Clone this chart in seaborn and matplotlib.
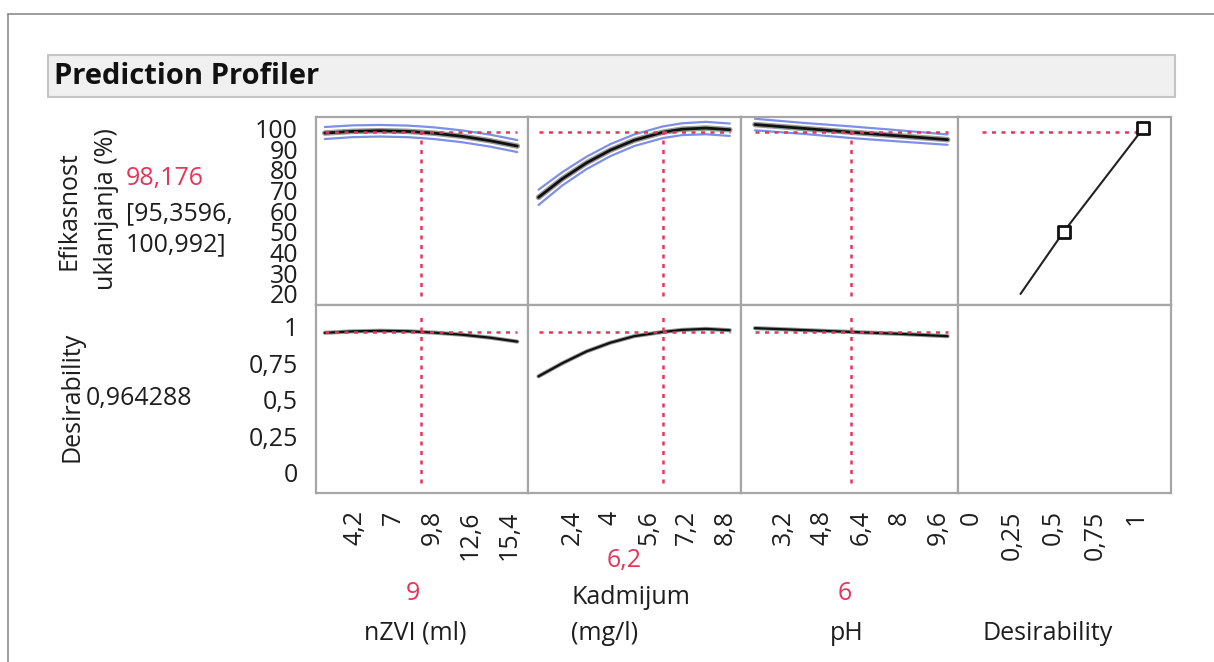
import numpy as np
import pandas as pd
import matplotlib
matplotlib.use("Agg")
import matplotlib.pyplot as plt
import seaborn as sns
from matplotlib.patches import Rectangle
from matplotlib.lines import Line2D

# ---------------- data ----------------
nzvi_x = [2, 4, 6, 8, 9, 10, 12, 14, 16]
nzvi_pred = [97.8, 98.6, 98.9, 98.6, 98.18, 97.7, 96.2, 94.1, 91.5]
nzvi_lo = [94.9, 95.8, 96.1, 95.8, 95.36, 94.85, 93.35, 91.25, 88.6]
nzvi_hi = [100.7, 101.5, 101.7, 101.4, 100.99, 100.5, 99.05, 97.05, 94.4]
nzvi_des = [0.958, 0.968, 0.972, 0.969, 0.964, 0.959, 0.945, 0.925, 0.898]

kad_x = [1, 2, 3, 4, 5, 6.2, 7, 8, 9]
kad_pred = [66.7, 75.7, 83.3, 89.5, 94.3, 98.18, 99.65, 100.2, 99.4]
kad_lo = [63.0, 72.5, 80.3, 86.6, 91.5, 95.36, 96.8, 97.2, 96.4]
kad_hi = [70.4, 78.9, 86.3, 92.4, 97.1, 100.99, 102.5, 103.2, 102.4]
kad_des = [0.66, 0.75, 0.83, 0.89, 0.935, 0.964, 0.978, 0.985, 0.976]

ph_x = [2, 4, 6, 8, 10]
ph_pred = [101.9, 100.05, 98.18, 96.4, 94.6]
ph_lo = [99.1, 97.4, 95.36, 93.7, 92.1]
ph_hi = [104.7, 102.7, 100.99, 99.1, 97.1]
ph_des = [0.99, 0.977, 0.964, 0.951, 0.935]

desfun_d = [0.30, 0.56, 1.04]
desfun_y = [20, 50, 100]

current = {"nZVI": 9, "Kad": 6.2, "pH": 6}
pred_value = 98.176
ci_text = "[95,3596,\n100,992]"
desir_value = 0.964288

nzvi_ticks = [4.2, 7, 9.8, 12.6, 15.4]
kad_ticks = [2.4, 4, 5.6, 7.2, 8.8]
ph_ticks = [3.2, 4.8, 6.4, 8, 9.6]
des_ticks = [0, 0.25, 0.5, 0.75, 1]
resp_ticks = [20, 30, 40, 50, 60, 70, 80, 90, 100]
d_ticks = [0, 0.25, 0.5, 0.75, 1]

def fmt(v):
    return ("%g" % v).replace(".", ",")

# ---------------- styling ----------------
sns.set_theme(style="white")
plt.rcParams["font.family"] = ["Open Sans", "DejaVu Sans"]

W, H = 1214, 662
fig = plt.figure(figsize=(W / 100, H / 100), dpi=100)

RED = "#e8345a"
BLUE = "#7f8fe6"
GRID = "#a6a6a6"
TXT = "#1e1e1e"
FS = 18
TFS = 18

def fx(px):
    return px / W

def fy(py):
    return 1 - py / H

# frame lines
fig.add_artist(Line2D([fx(8), fx(8)], [fy(14), fy(662)], transform=fig.transFigure, color="#8c8c8c", lw=1.2))
fig.add_artist(Line2D([fx(8), fx(1214)], [fy(14), fy(14)], transform=fig.transFigure, color="#8c8c8c", lw=1.2))

# title box
fig.add_artist(Rectangle((fx(48), fy(97)), fx(1175) - fx(48), fy(55) - fy(97),
                         transform=fig.transFigure, facecolor="#f0f0f0", edgecolor="#c4c4c4", lw=1.5))
fig.text(fx(54), fy(77), "Prediction Profiler", fontsize=21, fontweight="bold", color="#111111",
         ha="left", va="center")

col_edges = [316, 528, 741, 958, 1171]
row_edges = [117.3, 304.5, 493]

xlims = [(1.36, 16.78), (0.56, 9.47), (1.42, 10.43), (-0.077, 1.208)]
xticks = [nzvi_ticks, kad_ticks, ph_ticks, des_ticks]
ylims = [(14.9, 105.4), (-0.139, 1.152)]

axes = {}
for r in range(2):
    for c in range(4):
        l, rr = col_edges[c], col_edges[c + 1]
        t, b = row_edges[r], row_edges[r + 1]
        ax = fig.add_axes([fx(l), fy(b), fx(rr) - fx(l), fy(t) - fy(b)])
        ax.set_xlim(*xlims[c])
        ax.set_ylim(*ylims[r])
        for sp in ax.spines.values():
            sp.set_color(GRID)
            sp.set_linewidth(1.6)
        ax.tick_params(axis="both", which="both", length=0, labelsize=TFS, colors=TXT)
        ax.set_xticks([])
        ax.set_yticks([])
        axes[(r, c)] = ax

# y ticks on first column
for r, tks in [(0, resp_ticks), (1, d_ticks)]:
    ax = axes[(r, 0)]
    ax.set_yticks(tks)
    ax.set_yticklabels([fmt(v) for v in tks])
    ax.tick_params(axis="y", length=10, width=1.2, color="#808080", pad=3, labelsize=TFS, labelcolor=TXT)

# x ticks on bottom row
for c in range(4):
    ax = axes[(1, c)]
    ax.set_xticks(xticks[c])
    ax.set_xticklabels([fmt(v) for v in xticks[c]], rotation=90)
    ax.tick_params(axis="x", length=11, width=1.2, color="#808080", pad=1.5, labelsize=TFS, labelcolor=TXT)

# profiles
profiles = [
    (nzvi_x, nzvi_pred, nzvi_lo, nzvi_hi, nzvi_des, current["nZVI"]),
    (kad_x, kad_pred, kad_lo, kad_hi, kad_des, current["Kad"]),
    (ph_x, ph_pred, ph_lo, ph_hi, ph_des, current["pH"]),
]
DASH = (0, (1.6, 2.2))
for c, (xs, pr, lo, hi, de, cur) in enumerate(profiles):
    df = pd.DataFrame({"x": xs, "pred": pr, "lo": lo, "hi": hi, "des": de})
    ax = axes[(0, c)]
    sns.lineplot(data=df, x="x", y="lo", ax=ax, color=BLUE, lw=1.6, estimator=None, sort=False)
    sns.lineplot(data=df, x="x", y="hi", ax=ax, color=BLUE, lw=1.6, estimator=None, sort=False)
    sns.lineplot(data=df, x="x", y="pred", ax=ax, color="#9a9a9a", lw=4.0, estimator=None, sort=False)
    sns.lineplot(data=df, x="x", y="pred", ax=ax, color="#111111", lw=2.0, estimator=None, sort=False)
    ax.plot([min(xs), max(xs)], [pred_value, pred_value], color=RED, lw=1.8, ls=DASH)
    ax.axvline(cur, ymin=0.045, ymax=0.96, color=RED, lw=1.8, ls=DASH)

    ax = axes[(1, c)]
    sns.lineplot(data=df, x="x", y="des", ax=ax, color="#9a9a9a", lw=3.0, estimator=None, sort=False)
    sns.lineplot(data=df, x="x", y="des", ax=ax, color="#111111", lw=1.6, estimator=None, sort=False)
    ax.plot([min(xs), max(xs)], [desir_value, desir_value], color=RED, lw=1.8, ls=DASH)
    ax.axvline(cur, ymin=0.053, ymax=0.945, color=RED, lw=1.8, ls=DASH)

# desirability function panel
ax = axes[(0, 3)]
ddf = pd.DataFrame({"d": desfun_d, "y": desfun_y})
ax.plot([0.07, desfun_d[-1]], [pred_value, pred_value], color=RED, lw=1.8, ls=DASH)
sns.lineplot(data=ddf, x="d", y="y", ax=ax, color="#222222", lw=1.5, estimator=None, sort=False)
sns.scatterplot(data=ddf.iloc[1:], x="d", y="y", ax=ax, marker="s", s=70, facecolor="white",
                edgecolor="#111111", linewidth=2.0, zorder=5)
ax.set_xticks([])
ax.set_yticks([])

for key in axes:
    axes[key].set_xlabel("")
    axes[key].set_ylabel("")

# left annotations
fig.text(fx(69), fy(211), "Efikasnost", rotation=90, fontsize=FS, color=TXT, ha="center", va="center")
fig.text(fx(106), fy(209), "uklanjanja (%)", rotation=90, fontsize=FS, color=TXT, ha="center", va="center")
fig.text(fx(126), fy(179), fmt(pred_value), fontsize=FS, color=RED, ha="left", va="center")
fig.text(fx(126), fy(229), ci_text, fontsize=FS, color=TXT, ha="left", va="center", linespacing=1.3)
fig.text(fx(72), fy(397), "Desirability", rotation=90, fontsize=FS, color=TXT, ha="center", va="center")
fig.text(fx(86), fy(399), fmt(desir_value), fontsize=FS, color=TXT, ha="left", va="center")

# bottom labels
fig.text(fx(413), fy(594), fmt(current["nZVI"]), fontsize=FS, color=RED, ha="center", va="center")
fig.text(fx(415), fy(633), "nZVI (ml)", fontsize=FS, color=TXT, ha="center", va="center")
fig.text(fx(624), fy(560), fmt(current["Kad"]), fontsize=FS, color=RED, ha="center", va="center")
fig.text(fx(571), fy(597), "Kadmijum", fontsize=FS, color=TXT, ha="left", va="center")
fig.text(fx(571), fy(633), "(mg/l)", fontsize=FS, color=TXT, ha="left", va="center")
fig.text(fx(845), fy(594), fmt(current["pH"]), fontsize=FS, color=RED, ha="center", va="center")
fig.text(fx(847), fy(633), "pH", fontsize=FS, color=TXT, ha="center", va="center")
fig.text(fx(1048), fy(633), "Desirability", fontsize=FS, color=TXT, ha="center", va="center")

fig.savefig("out.png", dpi=100, facecolor="white")
